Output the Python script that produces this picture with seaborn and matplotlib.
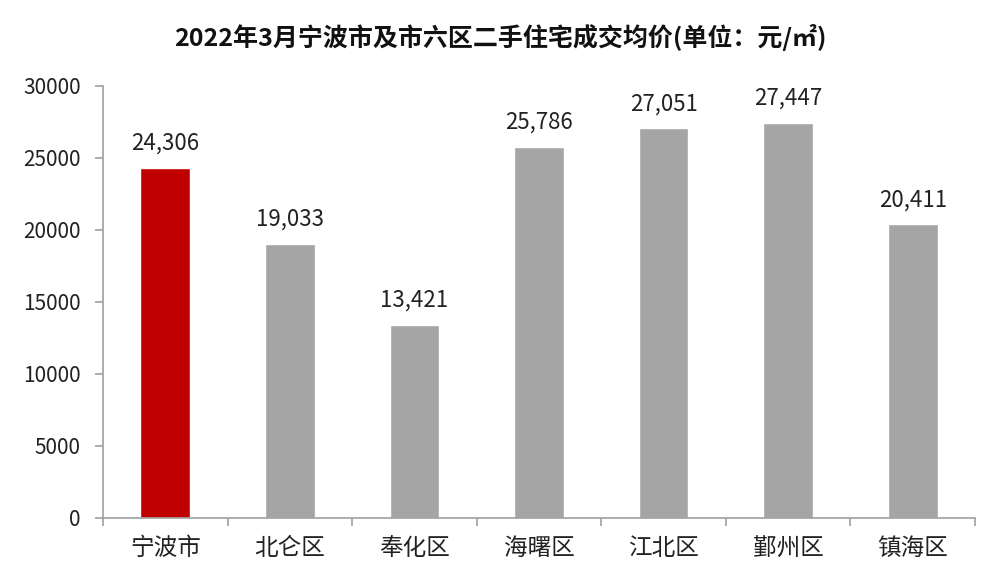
import matplotlib.pyplot as plt
import pandas as pd
import seaborn as sns
from matplotlib.ticker import FixedLocator, NullFormatter

districts = ["宁波市", "北仑区", "奉化区", "海曙区", "江北区", "鄞州区", "镇海区"]
prices = [24306, 19033, 13421, 25786, 27051, 27447, 20411]
bar_colors = ["#C00000", "#A5A5A5", "#A5A5A5", "#A5A5A5", "#A5A5A5", "#A5A5A5", "#A5A5A5"]

sns.set_theme(style="white")
plt.rcParams["font.family"] = ["Noto Sans CJK SC", "DejaVu Sans"]

df = pd.DataFrame({"district": districts, "price": prices})

fig = plt.figure(figsize=(10, 5.83), dpi=100)
ax = fig.add_axes([0.103, 0.1115, 0.872, 0.741])

sns.barplot(data=df, x="district", y="price", hue="district", palette=bar_colors,
            width=0.4, legend=False, ax=ax, saturation=1)

for i, v in enumerate(prices):
    ax.text(i, v + 900, f"{v:,}", ha="center", va="bottom", fontsize=16, color="#222222")

ax.set_ylim(0, 30000)
ax.set_xlim(-0.5, len(districts) - 0.5)
ax.set_yticks(range(0, 30001, 5000))
ax.set_xlabel("")
ax.set_ylabel("")
fig.text(0.5, 0.935, "2022年3月宁波市及市六区二手住宅成交均价(单位：元/㎡)",
         ha="center", va="center", fontsize=18, fontweight="bold", color="#111111")

for s in ["top", "right"]:
    ax.spines[s].set_visible(False)
for s in ["left", "bottom"]:
    ax.spines[s].set_color("#A0A0A0")
    ax.spines[s].set_linewidth(1.2)

ax.tick_params(axis="y", which="major", left=True, length=6, width=1.2, color="#A0A0A0",
               labelsize=15, labelcolor="#222222", pad=10)
ax.tick_params(axis="x", which="major", bottom=False, labelsize=17, labelcolor="#222222", pad=8)
ax.xaxis.set_minor_locator(FixedLocator([i - 0.5 for i in range(len(districts) + 1)]))
ax.xaxis.set_minor_formatter(NullFormatter())
ax.tick_params(axis="x", which="minor", bottom=True, length=6, width=1.2, color="#A0A0A0")

fig.savefig("out.png", dpi=100)
